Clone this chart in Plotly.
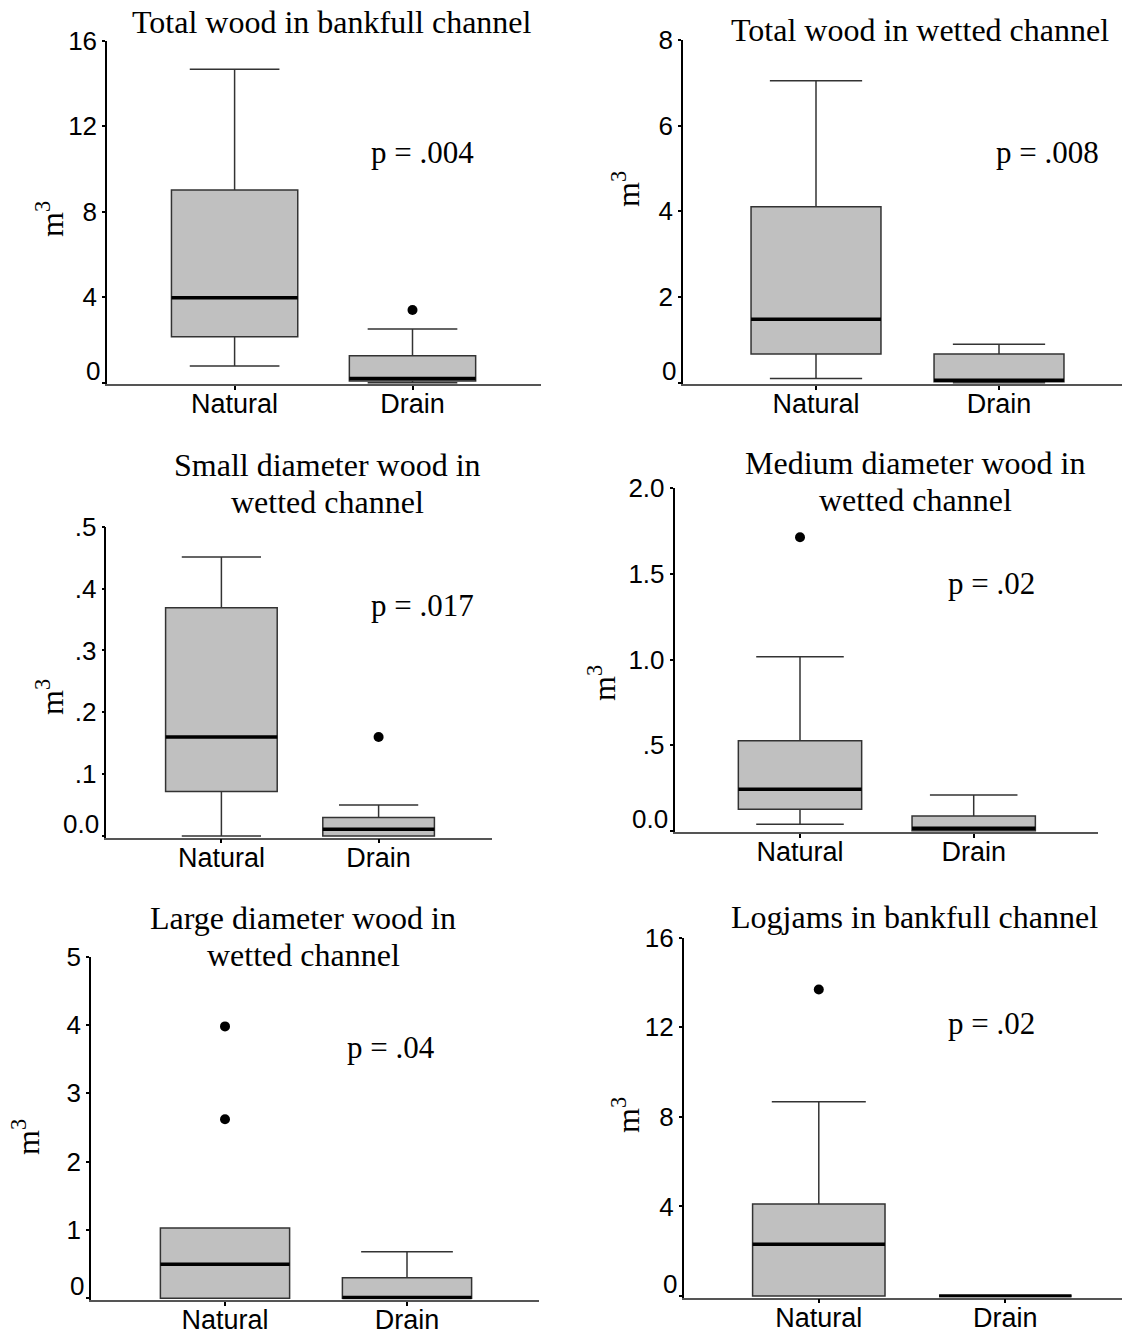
import plotly.graph_objects as go

# ---------------- data ----------------
categories = ["Natural", "Drain"]

titles = [
    "Total wood in bankfull channel",
    "Total wood in wetted channel",
    "Small diameter wood in<br>wetted channel",
    "Medium diameter wood in<br>wetted channel",
    "Large diameter wood in<br>wetted channel",
    "Logjams in bankfull channel",
]
p_values = ["p = .004", "p = .008", "p = .017", "p = .02", "p = .04", "p = .02"]

# Total wood in bankfull channel
bankfull_q1 = [2.15, 0.08]
bankfull_median = [3.98, 0.20]
bankfull_q3 = [9.02, 1.26]
bankfull_low = [0.78, 0.0]
bankfull_high = [14.66, 2.51]
bankfull_outliers = [[], [3.40]]

# Total wood in wetted channel
wetted_q1 = [0.67, 0.02]
wetted_median = [1.48, 0.06]
wetted_q3 = [4.11, 0.67]
wetted_low = [0.10, 0.0]
wetted_high = [7.05, 0.90]
wetted_outliers = [[], []]

# Small diameter wood in wetted channel
small_q1 = [0.072, 0.0]
small_median = [0.160, 0.011]
small_q3 = [0.369, 0.030]
small_low = [0.0, 0.0]
small_high = [0.451, 0.050]
small_outliers = [[], [0.160]]

# Medium diameter wood in wetted channel
medium_q1 = [0.125, 0.0]
medium_median = [0.242, 0.014]
medium_q3 = [0.526, 0.086]
medium_low = [0.037, 0.0]
medium_high = [1.016, 0.208]
medium_outliers = [[1.714], []]

# Large diameter wood in wetted channel
large_q1 = [0.0, 0.0]
large_median = [0.50, 0.01]
large_q3 = [1.03, 0.30]
large_low = [0.0, 0.0]
large_high = [1.03, 0.68]
large_outliers = [[3.98, 2.62], []]

# Logjams in bankfull channel
logjam_q1 = [0.0, 0.0]
logjam_median = [2.31, 0.0]
logjam_q3 = [4.11, 0.0]
logjam_low = [0.0, 0.0]
logjam_high = [8.67, 0.0]
logjam_outliers = [[13.69], []]

# tick values / labels
ticks_bankfull = [0, 4, 8, 12, 16]
labels_bankfull = ["0", "4", "8", "12", "16"]
ticks_wetted = [0, 2, 4, 6, 8]
labels_wetted = ["0", "2", "4", "6", "8"]
ticks_small = [0, 0.1, 0.2, 0.3, 0.4, 0.5]
labels_small = ["0.0", ".1", ".2", ".3", ".4", ".5"]
ticks_medium = [0, 0.5, 1.0, 1.5, 2.0]
labels_medium = ["0.0", ".5", "1.0", "1.5", "2.0"]
ticks_large = [0, 1, 2, 3, 4, 5]
labels_large = ["0", "1", "2", "3", "4", "5"]
ticks_logjam = [0, 4, 8, 12, 16]
labels_logjam = ["0", "4", "8", "12", "16"]

panels = [
    dict(q1=bankfull_q1, med=bankfull_median, q3=bankfull_q3, lo=bankfull_low, hi=bankfull_high,
         out=bankfull_outliers, tv=ticks_bankfull, tt=labels_bankfull),
    dict(q1=wetted_q1, med=wetted_median, q3=wetted_q3, lo=wetted_low, hi=wetted_high,
         out=wetted_outliers, tv=ticks_wetted, tt=labels_wetted),
    dict(q1=small_q1, med=small_median, q3=small_q3, lo=small_low, hi=small_high,
         out=small_outliers, tv=ticks_small, tt=labels_small),
    dict(q1=medium_q1, med=medium_median, q3=medium_q3, lo=medium_low, hi=medium_high,
         out=medium_outliers, tv=ticks_medium, tt=labels_medium),
    dict(q1=large_q1, med=large_median, q3=large_q3, lo=large_low, hi=large_high,
         out=large_outliers, tv=ticks_large, tt=labels_large),
    dict(q1=logjam_q1, med=logjam_median, q3=logjam_q3, lo=logjam_low, hi=logjam_high,
         out=logjam_outliers, tv=ticks_logjam, tt=labels_logjam),
]

# ---------------- layout geometry (screen pixels) ----------------
PAGE_W, PAGE_H = 1130, 1331
OFF = 8                      # default page margin around the figure
W, H = PAGE_W - OFF, PAGE_H - OFF

geom = [
    dict(left=107, right=541, top=40.7, zero=382.7, c0=234.6, c1=412.5, title=(332, 22), p=(422, 153), m3=(50, 219)),
    dict(left=683, right=1130, top=40, zero=382.7, c0=816, c1=999, title=(920, 30), p=(1047, 152), m3=(626, 189)),
    dict(left=106.4, right=492, top=526.7, zero=836, c0=221.4, c1=378.6, title=(327, 483.5), p=(422, 605), m3=(50, 697)),
    dict(left=674.5, right=1098, top=488.3, zero=830.7, c0=800, c1=973.7, title=(915, 481.5), p=(991, 583), m3=(602, 683)),
    dict(left=91, right=539, top=956.7, zero=1298.3, c0=225, c1=407, title=(303, 936.5), p=(391, 1047), m3=(26, 1137)),
    dict(left=683.6, right=1130, top=937.7, zero=1296, c0=818.8, c1=1005.3, title=(914, 917), p=(991, 1023), m3=(626, 1115)),
]


def fx(px):
    return (px - OFF) / W


def fy(py):
    return 1 - (py - OFF) / H


BOX_W = 0.71
SANS = "Liberation Sans, Arial, sans-serif"
SERIF = "Liberation Serif, Times New Roman, serif"
PAD_PX = 1.5
TITLE_SIZE = 32
P_SIZE = 31
TICK_SIZE = 26
LINE_GAP = 37

fig = go.Figure()
layout = dict(width=W, height=H, margin=dict(l=0, r=0, t=0, b=0, pad=0), autosize=False,
              paper_bgcolor="white", plot_bgcolor="white", showlegend=False)
annotations = []

for k, (pd_, g) in enumerate(zip(panels, geom)):
    n = "" if k == 0 else str(k + 1)
    xr, yr = "x" + n, "y" + n
    pos = list(range(len(categories)))

    fig.add_trace(go.Box(
        x=pos, q1=pd_["q1"], median=pd_["med"], q3=pd_["q3"],
        lowerfence=pd_["lo"], upperfence=pd_["hi"],
        width=BOX_W, whiskerwidth=0.71, fillcolor="#c0c0c0",
        line=dict(color="#333333", width=1.5), boxpoints=False,
        xaxis=xr, yaxis=yr, hoverinfo="skip"))

    mx, my = [], []
    for i, m in zip(pos, pd_["med"]):
        mx += [i - BOX_W / 2, i + BOX_W / 2, None]
        my += [m, m, None]
    fig.add_trace(go.Scatter(x=mx, y=my, mode="lines", line=dict(color="black", width=3.5),
                             xaxis=xr, yaxis=yr, hoverinfo="skip"))

    ox, oy = [], []
    for i, vals in zip(pos, pd_["out"]):
        for v in vals:
            ox.append(i)
            oy.append(v)
    if ox:
        fig.add_trace(go.Scatter(x=ox, y=oy, mode="markers", marker=dict(color="black", size=10),
                                 xaxis=xr, yaxis=yr, hoverinfo="skip", cliponaxis=False))

    s = g["c1"] - g["c0"]
    x_range = [(g["left"] - g["c0"]) / s, (g["right"] - g["c0"]) / s]
    ymax = max(pd_["tv"])
    ymin = -ymax * PAD_PX / (g["zero"] - g["top"])
    bottom_px = g["zero"] + PAD_PX

    layout["xaxis" + n] = dict(
        domain=[max(0, fx(g["left"])), min(1, fx(g["right"]))], anchor=yr, range=x_range,
        tickmode="array", tickvals=pos, ticktext=categories,
        ticks="outside", ticklen=4, tickwidth=1.5, tickcolor="black",
        showline=True, linecolor="#555555", linewidth=1.5, ticklabelstandoff=-9,
        showgrid=False, zeroline=False, automargin=False, fixedrange=True,
        tickfont=dict(family=SANS, size=TICK_SIZE + 1, color="black"))
    layout["yaxis" + n] = dict(
        domain=[fy(bottom_px), fy(g["top"])], anchor=xr, range=[ymin, ymax],
        tickmode="array", tickvals=pd_["tv"],
        ticktext=["" if v == 0 else t for v, t in zip(pd_["tv"], pd_["tt"])],
        ticks="outside", ticklen=3, tickwidth=1.5, tickcolor="black",
        showline=True, linecolor="black", linewidth=1.5,
        showgrid=False, zeroline=False, automargin=False, fixedrange=True,
        tickfont=dict(family=SANS, size=TICK_SIZE, color="black"))

    # zero label (sits slightly above the axis)
    zero_label = [t for v, t in zip(pd_["tv"], pd_["tt"]) if v == 0][0]
    annotations.append(dict(text=zero_label, xref=xr + " domain", yref=yr, x=0, y=0,
                            xshift=-5, yshift=12, xanchor="right", yanchor="middle",
                            showarrow=False, font=dict(family=SANS, size=TICK_SIZE, color="black")))
    # title (one annotation per line for tighter line spacing)
    lines = titles[k].split("<br>")
    for j, line in enumerate(lines):
        ly = g["title"][1] + (j - (len(lines) - 1) / 2) * LINE_GAP
        annotations.append(dict(text=line, xref="paper", yref="paper",
                                x=fx(g["title"][0]), y=fy(ly),
                                xanchor="center", yanchor="middle", showarrow=False,
                                font=dict(family=SERIF, size=TITLE_SIZE, color="black")))
    # p-value
    annotations.append(dict(text=p_values[k], xref="paper", yref="paper",
                            x=fx(g["p"][0]), y=fy(g["p"][1]),
                            xanchor="center", yanchor="middle", showarrow=False,
                            font=dict(family=SERIF, size=P_SIZE, color="black")))
    # y-axis title
    annotations.append(dict(text="m<sup>3</sup>", xref="paper", yref="paper",
                            x=fx(g["m3"][0]), y=fy(g["m3"][1]), textangle=-90,
                            xanchor="center", yanchor="middle", showarrow=False,
                            font=dict(family=SERIF, size=TITLE_SIZE, color="black")))

layout["annotations"] = annotations
fig.update_layout(**layout)
fig.write_html("out.html", config={"displayModeBar": False})
